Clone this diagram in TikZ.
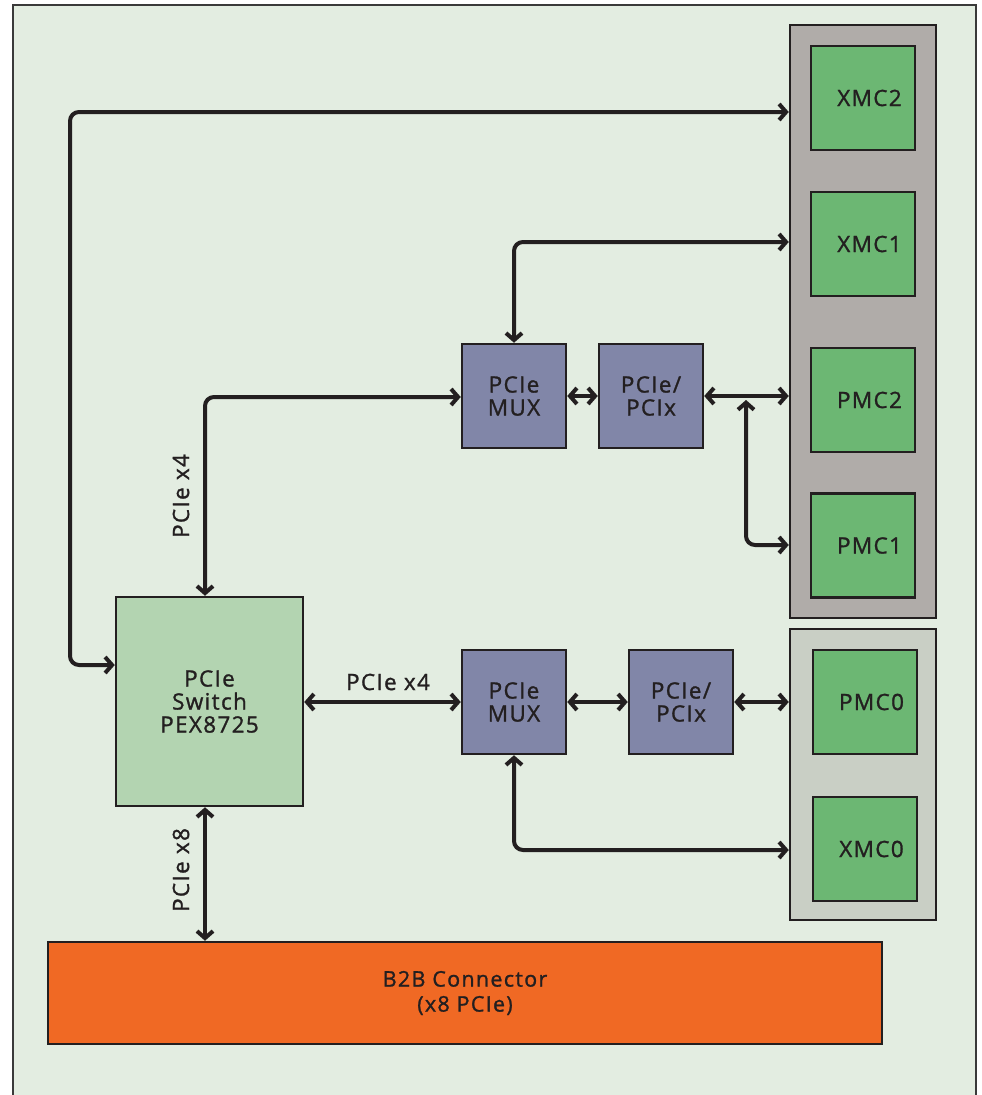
\documentclass[tikz,border=0pt]{standalone}
\usepackage{fontspec}
\setmainfont{Open Sans}[LetterSpace=6, FakeBold=1.2]
\usetikzlibrary{arrows.meta}
\definecolor{bg}{HTML}{E3EDE1}
\definecolor{frame}{HTML}{3A3A3A}
\definecolor{ink}{HTML}{231F20}
\definecolor{panelgray}{HTML}{B0ACA9}
\definecolor{panellight}{HTML}{C9CFC5}
\definecolor{cardgreen}{HTML}{6CB773}
\definecolor{switchgreen}{HTML}{B3D4B1}
\definecolor{muxblue}{HTML}{8186A8}
\definecolor{b2borange}{HTML}{F06924}
\tikzset{
  box/.style={draw=ink, line width=2.5, text=ink, align=center, inner sep=0,
    font=\fontsize{22.5}{23}\selectfont},
  card/.style={box, fill=cardgreen, minimum width=104, minimum height=104},
  muxbox/.style={box, fill=muxblue, minimum width=104, minimum height=104},
  panel/.style={draw=ink, line width=2.5},
  conn/.style={draw=ink, line width=4, rounded corners=9,
    {Straight Barb[length=7,width=16]}-{Straight Barb[length=7,width=16]}},
  lbl/.style={text=ink, inner sep=0, font=\fontsize{22.5}{23}\selectfont}
}
\newcommand{\cardtext}[1]{\hspace*{13pt}#1}
\begin{document}
\begin{tikzpicture}[x=1pt,y=-1pt]
\useasboundingbox (0,0) rectangle (982,1095);
\fill[white] (0,0) rectangle (982,1095);
\draw[fill=bg, line width=2, draw=frame] (13,5) rectangle (976,1115);

% panels
\node[panel, fill=panelgray, minimum width=146, minimum height=593] (panelA) at (863,321.5) {};
\node[panel, fill=panellight, minimum width=146, minimum height=291] (panelB) at (863,774.5) {};

% cards
\node[card] (xmc2) at (863,98) {\cardtext{XMC2}};
\node[card] (xmc1) at (863,244) {\cardtext{XMC1}};
\node[card] (pmc2) at (863,400) {\cardtext{PMC2}};
\node[card] (pmc1) at (863,545.5) {\cardtext{PMC1}};
\node[card] (pmc0) at (865,702) {\cardtext{PMC0}};
\node[card] (xmc0) at (865,849) {\cardtext{XMC0}};

% mux / bridge
\node[muxbox] (mux1) at (514,396) {PCIe\\MUX};
\node[muxbox] (pc1) at (651,396) {PCIe/\\PCIx};
\node[muxbox] (mux2) at (514,702) {PCIe\\MUX};
\node[muxbox] (pc2) at (681,702) {PCIe/\\PCIx};

% switch
\node[box, fill=switchgreen, minimum width=187, minimum height=209] (sw) at (209.5,701.5) {PCIe\\Switch\\PEX8725};

% B2B
\node[box, fill=b2borange, minimum width=834, minimum height=102,
  font=\fontsize{21.5}{25}\selectfont] (b2b) at (465,993) {B2B Connector\\(x8 PCIe)};

% corner coordinates
\coordinate (k1) at (70,665);
\coordinate (k2) at (70,112);
\coordinate (k3) at (514,242);
\coordinate (k4) at (205,397);
\coordinate (j1) at (746,400);
\coordinate (k5) at (746,545);
\coordinate (k6) at (514,850);

% connectors
\draw[conn] (sw.west|-k1) -- (k1) -- (k2) -- (panelA.west|-k2);
\draw[conn] (mux1.north) -- (k3) -- (panelA.west|-k3);
\draw[conn] (sw.north-|k4) -- (k4) -- (mux1.west|-k4);
\draw[conn] (mux1.east) -- (pc1.west);
\draw[conn] (pc1.east) -- (panelA.west|-pc1.east);
\draw[conn] (j1) -- (k5) -- (panelA.west|-k5);
\draw[conn] (sw.east|-mux2.west) -- (mux2.west);
\draw[conn] (mux2.east) -- (pc2.west);
\draw[conn] (pc2.east) -- (panelB.west|-pc2.east);
\draw[conn] (mux2.south) -- (k6) -- (panelB.west|-k6);
\draw[conn] (sw.south-|k4) -- (b2b.north-|k4);

% labels
\node[lbl] (l2) at (388,682) {PCIe x4};
\node[lbl, rotate=90] (l1) at (181,496) {PCIe x4};
\node[lbl, rotate=90] (l3) at (181,870) {PCIe x8};
\end{tikzpicture}
\end{document}
